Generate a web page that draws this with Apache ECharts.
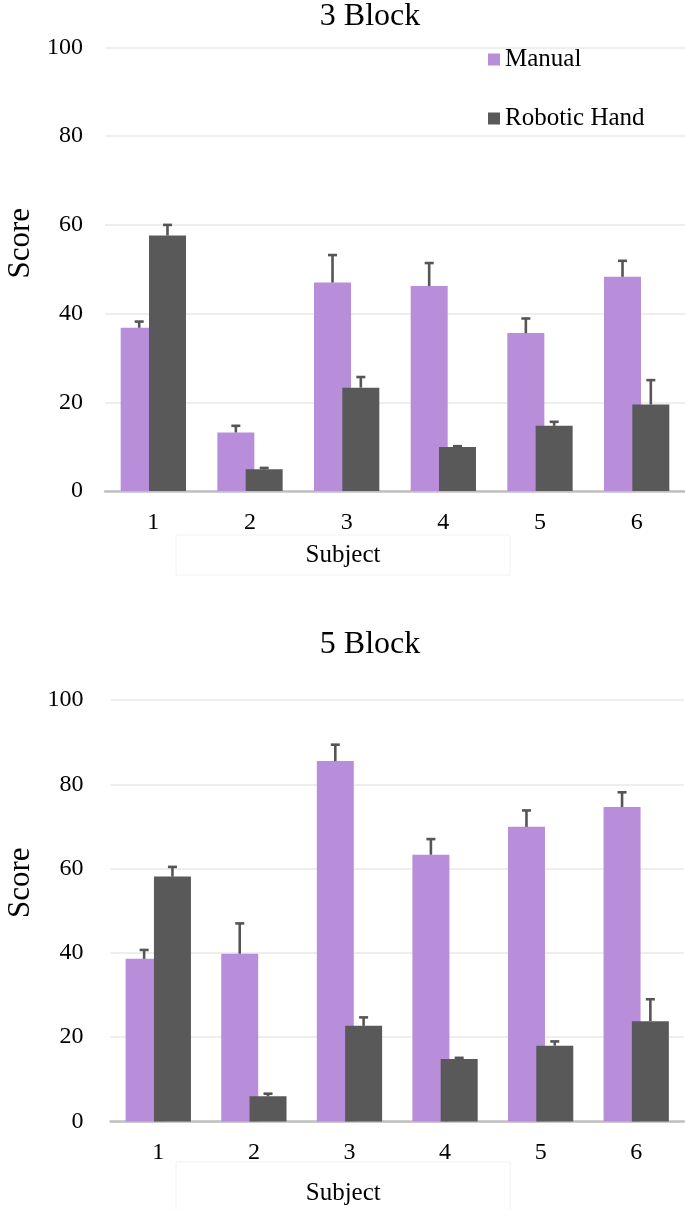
<!DOCTYPE html>
<html>
<head>
<meta charset="utf-8">
<script src="https://cdn.jsdelivr.net/npm/echarts@6/dist/echarts.min.js"></script>
<style>
  html, body { margin: 0; padding: 0; background: #ffffff; }
  #chart { width: 685px; height: 1210px; }
</style>
</head>
<body>
<div id="chart"></div>
<script>
// ---- Data ----
const subjects = ['1', '2', '3', '4', '5', '6'];
const seriesNames = ['Manual', 'Robotic Hand'];
const yTicks = [0, 20, 40, 60, 80, 100];

const manual3 = [36.8, 13.2, 47.0, 46.2, 35.6, 48.3];
const manual3Err = [1.4, 1.5, 6.2, 5.2, 3.3, 3.6];
const robot3 = [57.6, 4.9, 23.3, 9.9, 14.7, 19.5];
const robot3Err = [2.4, 0.3, 2.4, 0.2, 0.9, 5.5];

const manual5 = [38.6, 39.8, 85.5, 63.3, 69.9, 74.6];
const manual5Err = [2.1, 7.2, 3.9, 3.7, 3.9, 3.5];
const robot5 = [58.1, 6.0, 22.7, 14.8, 18.0, 23.8];
const robot5Err = [2.3, 0.6, 2.0, 0.3, 1.0, 5.2];

// ---- Style ----
const FONT = "'Liberation Serif', 'Times New Roman', serif";
const C_MANUAL = '#b88dda';
const C_ROBOT = '#595959';
const BAR_W = 37;
const BAR_GAP = -0.235;
const BAR_OFFSET = BAR_W * (1 + BAR_GAP) / 2;

function errData(vals, errs) {
  return vals.map((v, i) => [i, v, errs[i]]);
}
function errRender(sign) {
  return function (params, api) {
    const xi = api.value(0), v = api.value(1), e = api.value(2);
    const base = api.coord([xi, v]);
    const top = api.coord([xi, v + e]);
    const x = base[0] + sign * BAR_OFFSET;
    const st = { stroke: '#555555', lineWidth: 2.6 };
    return {
      type: 'group',
      children: [
        { type: 'line', shape: { x1: x, y1: base[1], x2: x, y2: top[1] }, style: st },
        { type: 'line', shape: { x1: x - 4.5, y1: top[1], x2: x + 4.5, y2: top[1] }, style: st }
      ]
    };
  };
}

function xAxisCfg(gridIndex, margin, nameGap, padRight) {
  return {
    type: 'category', gridIndex, data: subjects,
    axisLine: { lineStyle: { color: '#c0c0c0', width: 2.5 } },
    axisTick: { show: false },
    axisLabel: { color: '#000', fontFamily: FONT, fontSize: 24, margin },
    name: 'Subject', nameLocation: 'middle', nameGap,
    nameTextStyle: { color: '#000', fontFamily: FONT, fontSize: 25, padding: [0, padRight, 0, 0] }
  };
}
function yAxisCfg(gridIndex, margin, nameGap, shiftPad) {
  return {
    type: 'value', gridIndex, min: 0, max: 100, interval: 20,
    axisLine: { show: false }, axisTick: { show: false },
    axisLabel: { color: '#000', fontFamily: FONT, fontSize: 24, margin,
      formatter: v => (yTicks.indexOf(v) >= 0 ? String(v) : '') },
    splitLine: { lineStyle: { color: '#e8e8e8', width: 1.5 } },
    name: 'Score', nameLocation: 'middle', nameGap, nameRotate: 90,
    nameTextStyle: { color: '#000', fontFamily: FONT, fontSize: 31, padding: [0, 0, 0, shiftPad] }
  };
}

const option = {
  backgroundColor: '#ffffff',
  animation: false,
  title: [
    { text: '3 Block', left: 365, top: -4, textAlign: 'center',
      textStyle: { fontFamily: FONT, fontSize: 32, fontWeight: 'normal', color: '#000' } },
    { text: '5 Block', left: 365, top: 624, textAlign: 'center',
      textStyle: { fontFamily: FONT, fontSize: 32, fontWeight: 'normal', color: '#000' } }
  ],
  legend: {
    data: seriesNames, orient: 'vertical', left: 483, top: 42,
    icon: 'rect', itemWidth: 12, itemHeight: 12, itemGap: 34,
    textStyle: { fontFamily: FONT, fontSize: 25, color: '#000', lineHeight: 25 }
  },
  grid: [
    { left: 105, right: 0, top: 47.5, height: 443.5, outerBoundsMode: 'none', containLabel: false },
    { left: 110.5, right: 1, top: 700, height: 421.5, outerBoundsMode: 'none', containLabel: false }
  ],
  xAxis: [ xAxisCfg(0, 20, 52, 104), xAxisCfg(1, 19, 59, 108) ],
  yAxis: [ yAxisCfg(0, 22, 67, 52), yAxisCfg(1, 27, 72, 56) ],
  graphic: [
    { type: 'rect', shape: { x: 176, y: 535, width: 334, height: 40 },
      style: { fill: 'none', stroke: '#f2f2f2', lineWidth: 1 }, silent: true },
    { type: 'rect', shape: { x: 176, y: 1162, width: 334, height: 60 },
      style: { fill: 'none', stroke: '#f2f2f2', lineWidth: 1 }, silent: true }
  ],
  series: [
    { name: 'Manual', type: 'bar', xAxisIndex: 0, yAxisIndex: 0, data: manual3,
      barWidth: BAR_W, barGap: (BAR_GAP * 100) + '%', itemStyle: { color: C_MANUAL } },
    { name: 'Robotic Hand', type: 'bar', xAxisIndex: 0, yAxisIndex: 0, data: robot3,
      barWidth: BAR_W, barGap: (BAR_GAP * 100) + '%', itemStyle: { color: C_ROBOT } },
    { name: 'Manual', type: 'bar', xAxisIndex: 1, yAxisIndex: 1, data: manual5,
      barWidth: BAR_W, barGap: (BAR_GAP * 100) + '%', itemStyle: { color: C_MANUAL } },
    { name: 'Robotic Hand', type: 'bar', xAxisIndex: 1, yAxisIndex: 1, data: robot5,
      barWidth: BAR_W, barGap: (BAR_GAP * 100) + '%', itemStyle: { color: C_ROBOT } },
    { type: 'custom', xAxisIndex: 0, yAxisIndex: 0, z: 5, renderItem: errRender(-1),
      data: errData(manual3, manual3Err), encode: { x: 0, y: 1 } },
    { type: 'custom', xAxisIndex: 0, yAxisIndex: 0, z: 5, renderItem: errRender(1),
      data: errData(robot3, robot3Err), encode: { x: 0, y: 1 } },
    { type: 'custom', xAxisIndex: 1, yAxisIndex: 1, z: 5, renderItem: errRender(-1),
      data: errData(manual5, manual5Err), encode: { x: 0, y: 1 } },
    { type: 'custom', xAxisIndex: 1, yAxisIndex: 1, z: 5, renderItem: errRender(1),
      data: errData(robot5, robot5Err), encode: { x: 0, y: 1 } }
  ]
};

const chart = echarts.init(document.getElementById('chart'), null, { renderer: 'canvas' });
chart.setOption(option);
</script>
</body>
</html>
